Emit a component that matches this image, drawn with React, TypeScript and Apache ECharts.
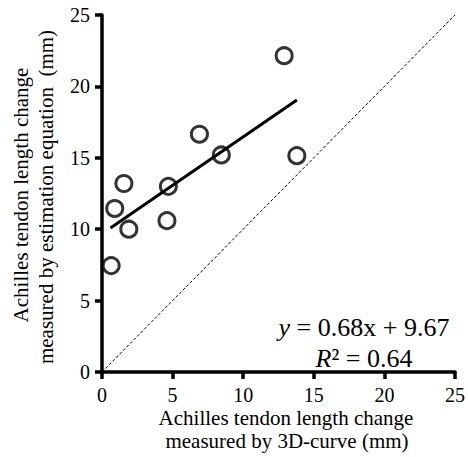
import React, { useEffect, useRef } from "react";
import * as echarts from "echarts";

const pointsX = [12.9, 6.9, 8.45, 13.8, 1.55, 4.7, 0.9, 4.6, 1.9, 0.65];
const pointsY = [22.15, 16.65, 15.2, 15.15, 13.2, 13.0, 11.45, 10.6, 10.0, 7.45];
const fitLineX = [0.6, 13.8];
const fitLineY = [10.08, 19.05];
const identityX = [0, 25];
const identityY = [0, 25];
const xTitle = ["Achilles tendon length change", "measured by 3D-curve (mm)"];
const yTitle = ["Achilles tendon length change", "measured by estimation equation  (mm)"];

const FONT = "Liberation Serif, Times New Roman, serif";

export default function App() {
  const ref = useRef<HTMLDivElement>(null);
  useEffect(() => {
    if (!ref.current) return;
    const chart = echarts.init(ref.current, undefined, { renderer: "svg" });
    const axisCommon = {
      type: "value",
      min: 0,
      max: 25,
      interval: 5,
      splitLine: { show: false },
      axisLine: { show: true, lineStyle: { color: "#000", width: 3.5 } },
      axisTick: { show: true, length: 7, lineStyle: { color: "#000", width: 3.5 } },
    };
    const titleStyle = { fill: "#000", fontFamily: FONT, fontSize: 21, align: "center", verticalAlign: "middle" };
    chart.setOption({
      animation: false,
      textStyle: { fontFamily: FONT },
      grid: { left: 102, right: 11, top: 15, bottom: 85, containLabel: false },
      xAxis: {
        ...axisCommon,
        axisLabel: { color: "#000", fontFamily: FONT, fontSize: 20, margin: 13 },
      },
      yAxis: {
        ...axisCommon,
        axisLabel: { color: "#000", fontFamily: FONT, fontSize: 20, margin: 12 },
      },
      series: [
        {
          type: "line",
          data: identityX.map((x, i) => [x, identityY[i]]),
          symbol: "none",
          lineStyle: { color: "#000", width: 1, type: [3, 2] },
          silent: true,
        },
        {
          type: "line",
          data: fitLineX.map((x, i) => [x, fitLineY[i]]),
          symbol: "none",
          lineStyle: { color: "#000", width: 3 },
          silent: true,
        },
        {
          type: "scatter",
          data: pointsX.map((x, i) => [x, pointsY[i]]),
          symbol: "circle",
          symbolSize: 16,
          itemStyle: { color: "#fff", borderColor: "#000", borderWidth: 3 },
        },
      ],
      graphic: [
        { type: "text", x: 286, y: 418, style: { ...titleStyle, text: xTitle[0] } },
        { type: "text", x: 287, y: 441, style: { ...titleStyle, text: xTitle[1] } },
        { type: "text", x: 21, y: 195, rotation: Math.PI / 2, style: { ...titleStyle, text: yTitle[0] } },
        { type: "text", x: 46, y: 197, rotation: Math.PI / 2, style: { ...titleStyle, text: yTitle[1] } },
        {
          type: "text",
          x: 364,
          y: 327,
          style: {
            text: "{i|y} = 0.68x + 9.67",
            fill: "#000",
            fontFamily: FONT,
            fontSize: 26,
            align: "center",
            verticalAlign: "middle",
            rich: { i: { fontStyle: "italic", fontFamily: FONT, fontSize: 26 } },
          },
        },
        {
          type: "text",
          x: 364,
          y: 358,
          style: {
            text: "{i|R}² = 0.64",
            fill: "#000",
            fontFamily: FONT,
            fontSize: 26,
            align: "center",
            verticalAlign: "middle",
            rich: { i: { fontStyle: "italic", fontFamily: FONT, fontSize: 26 } },
          },
        },
      ],
    });
    return () => chart.dispose();
  }, []);
  return <div ref={ref} style={{ position: "absolute", left: 0, top: 0, width: 468, height: 457 }} />;
}
